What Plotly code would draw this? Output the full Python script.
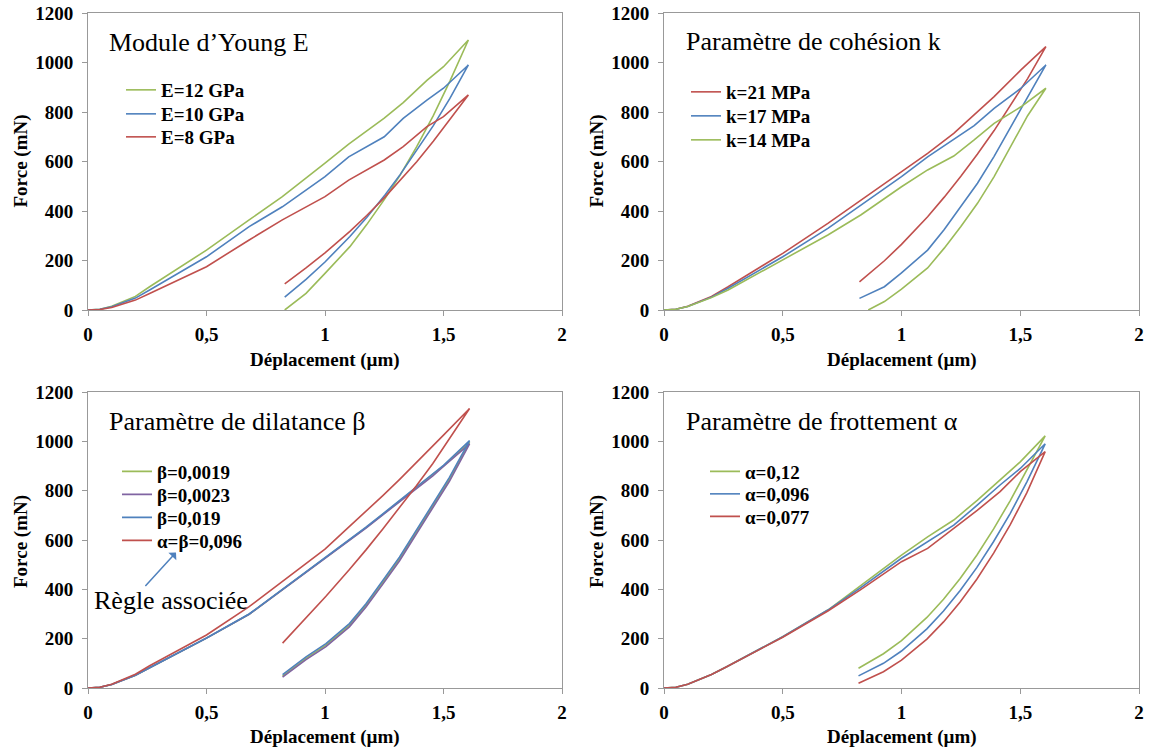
import plotly.graph_objects as go

W, H = 1151, 751
SERIF = "Liberation Serif, Times New Roman, DejaVu Serif, serif"
GREEN, BLUE, RED, PURPLE = "#9BBB59", "#4F81BD", "#C0504D", "#8064A2"

# ---------------- Panel 1 : Module d'Young E ----------------
E_load_x = [0, 0.05, 0.1, 0.2, 0.26, 0.5, 0.68, 0.82, 1.0, 1.1, 1.25, 1.33, 1.43, 1.5, 1.605]
E12_load = [0, 3, 15, 55, 94, 242, 364, 458, 593, 670, 775, 838, 928, 983, 1091]
E10_load = [0, 3, 13, 48, 81, 215, 337, 417, 539, 619, 700, 774, 848, 896, 990]
E8_load = [0, 2, 10, 40, 67, 175, 283, 364, 458, 525, 606, 660, 741, 781, 869]
E_unload_x = [1.527, 1.457, 1.387, 1.317, 1.253, 1.176, 1.105, 1.0, 0.92, 0.83]
E12_unload = [925, 785, 660, 545, 450, 345, 256, 148, 67, 0]
E10_unload = [855, 745, 645, 547, 465, 374, 297, 194, 124, 52]
E8_unload = [770, 682, 599, 522, 456, 382, 318, 231, 170, 106]

# ---------------- Panel 2 : cohésion k ----------------
k_load_x = [0, 0.05, 0.1, 0.2, 0.27, 0.5, 0.69, 0.83, 1.0, 1.11, 1.22, 1.306, 1.39, 1.503, 1.608]
k21_load = [0, 3, 15, 55, 94, 229, 350, 444, 559, 633, 714, 788, 862, 970, 1064]
k17_load = [0, 3, 14, 52, 88, 215, 330, 424, 539, 619, 688, 745, 815, 896, 990]
k14_load = [0, 3, 14, 50, 81, 202, 303, 385, 498, 566, 622, 687, 754, 821, 896]
k_unload_x = [1.531, 1.461, 1.39, 1.32, 1.25, 1.18, 1.11, 1.0, 0.928, 0.823]
k14_unload_x = [1.531, 1.461, 1.39, 1.32, 1.25, 1.18, 1.11, 1.0, 0.928, 0.86]
k21_unload = [935, 828, 725, 630, 540, 456, 377, 265, 199, 114]
k17_unload = [860, 741, 621, 512, 417, 325, 242, 150, 94, 47]
k14_unload = [785, 660, 539, 431, 337, 250, 170, 84, 34, 0]

# ---------------- Panel 3 : dilatance beta ----------------
b_load_x = [0, 0.05, 0.1, 0.2, 0.26, 0.5, 0.68, 0.82, 1.0, 1.1, 1.173, 1.244, 1.314, 1.384, 1.455, 1.5, 1.61]
ab096_load = [0, 3, 15, 56, 90, 215, 330, 432, 563, 652, 716, 780, 845, 912, 980, 1025, 1133]
b019_load = [0, 3, 14, 52, 82, 203, 300, 400, 530, 598, 652, 706, 760, 813, 867, 903, 1003]
b0023_load = [0, 3, 14, 52, 82, 202, 299, 398, 527, 595, 648, 702, 755, 808, 860, 898, 990]
b0019_load = [0, 3, 14, 52, 82, 202, 299, 399, 528, 596, 650, 704, 757, 810, 863, 900, 996]
b_unload_x = [1.525, 1.455, 1.384, 1.314, 1.244, 1.173, 1.103, 1.004, 0.92, 0.821]
ab096_unload = [1008, 910, 818, 730, 645, 560, 480, 372, 284, 182]
b019_unload = [854, 746, 638, 530, 436, 342, 261, 180, 126, 54]
b0023_unload = [838, 730, 622, 515, 421, 328, 248, 168, 115, 44]
b0019_unload = [846, 738, 630, 522, 428, 335, 254, 174, 120, 48]

# ---------------- Panel 4 : frottement alpha ----------------
a_load_x = [0, 0.05, 0.1, 0.2, 0.264, 0.5, 0.69, 0.83, 1.0, 1.11, 1.22, 1.32, 1.415, 1.5, 1.605]
a012_load = [0, 3, 15, 55, 86, 208, 316, 415, 539, 613, 681, 762, 843, 917, 1022]
a096_load = [0, 3, 15, 55, 86, 208, 316, 408, 526, 593, 660, 742, 823, 890, 990]
a077_load = [0, 3, 15, 55, 86, 206, 312, 400, 512, 566, 647, 721, 796, 877, 958]
a_unload_x = [1.528, 1.458, 1.388, 1.317, 1.247, 1.177, 1.107, 1.0, 0.924, 0.819]
a012_unload = [886, 760, 645, 538, 444, 360, 286, 192, 139, 80]
a096_unload = [836, 708, 594, 488, 395, 312, 240, 150, 100, 49]
a077_unload = [792, 662, 547, 441, 349, 268, 198, 113, 66, 19]

panel_titles = ["Module d\u2019Young E", "Param\u00e8tre de coh\u00e9sion k",
                "Param\u00e8tre de dilatance \u03b2", "Param\u00e8tre de frottement \u03b1"]
x_title = "D\u00e9placement (\u00b5m)"
y_title = "Force (mN)"


def px(X):
    return X / W


def py(Y):
    return 1 - Y / H


panels = [
    ("", [("E=12 GPa", GREEN, E_load_x, E12_load, E_unload_x, E12_unload),
          ("E=10 GPa", BLUE, E_load_x, E10_load, E_unload_x, E10_unload),
          ("E=8 GPa", RED, E_load_x, E8_load, E_unload_x, E8_unload)],
     161, [90, 114, 137]),
    ("2", [("k=21 MPa", RED, k_load_x, k21_load, k_unload_x, k21_unload),
           ("k=17 MPa", BLUE, k_load_x, k17_load, k_unload_x, k17_unload),
           ("k=14 MPa", GREEN, k_load_x, k14_load, k14_unload_x, k14_unload)],
     726, [92, 116, 140]),
    ("3", [("\u03b2=0,0019", GREEN, b_load_x, b0019_load, b_unload_x, b0019_unload),
           ("\u03b2=0,0023", PURPLE, b_load_x, b0023_load, b_unload_x, b0023_unload),
           ("\u03b2=0,019", BLUE, b_load_x, b019_load, b_unload_x, b019_unload),
           ("\u03b1=\u03b2=0,096", RED, b_load_x, ab096_load, b_unload_x, ab096_unload)],
     157, [471.5, 494.5, 517.5, 540.5]),
    ("4", [("\u03b1=0,12", GREEN, a_load_x, a012_load, a_unload_x, a012_unload),
           ("\u03b1=0,096", BLUE, a_load_x, a096_load, a_unload_x, a096_unload),
           ("\u03b1=0,077", RED, a_load_x, a077_load, a_unload_x, a077_unload)],
     745, [471.5, 494, 516.5]),
]

LEG_DX = -40

fig = go.Figure()
layout_legends = {}
leg_idx = 0
for suffix, series, text_x, rows in panels:
    for (name, col, lx, ly, ux, uy), rowY in zip(series, rows):
        leg_idx += 1
        key = "legend" if leg_idx == 1 else f"legend{leg_idx}"
        fig.add_trace(go.Scatter(
            x=list(lx) + list(ux), y=list(ly) + list(uy), mode="lines",
            line=dict(color=col, width=1.6), name=name,
            xaxis="x" + suffix, yaxis="y" + suffix, legend=key,
            showlegend=True, hoverinfo="skip"))
        layout_legends[key] = dict(
            x=px(text_x + LEG_DX), y=py(rowY), xanchor="left", yanchor="middle",
            bgcolor="rgba(0,0,0,0)", borderwidth=0, itemwidth=30,
            font=dict(family=SERIF, size=19, color="black", weight="bold"),
            itemclick=False, itemdoubleclick=False)

left_cols = [(88, 562), (664, 1139)]
rows_px = [(13, 310), (392, 688)]

axis_common = dict(showline=True, linecolor="#999999", linewidth=1, mirror=True,
                   ticks="outside", ticklen=5, tickcolor="#999999", tickwidth=1,
                   showgrid=False, zeroline=False, automargin=False,
                   tickfont=dict(family=SERIF, size=19, color="black", weight="bold"))
layout_axes = {}
for i, (suffix, _, _, _) in enumerate(panels):
    c = left_cols[i % 2]
    r = rows_px[i // 2]
    layout_axes["xaxis" + suffix] = dict(axis_common, domain=[px(c[0]), px(c[1])], range=[0, 2], dtick=0.5,
                                         anchor="y" + suffix, ticklabelstandoff=2)
    layout_axes["yaxis" + suffix] = dict(axis_common, domain=[py(r[1]), py(r[0])], range=[0, 1200], dtick=200,
                                         anchor="x" + suffix, ticklabelstandoff=5)

annotations = []
title_pos = [(107, 43), (684, 42), (107, 421.5), (684, 421.5)]
for t, (X, Y) in zip(panel_titles, title_pos):
    annotations.append(dict(text=t, x=px(X), y=py(Y), xref="paper", yref="paper",
                            xanchor="left", yanchor="middle", showarrow=False,
                            font=dict(family=SERIF, size=26, color="black")))
for X, Y in [(20.5, 161), (596.5, 161), (20.5, 541.5), (596.5, 541.5)]:
    annotations.append(dict(text=y_title, x=px(X), y=py(Y), xref="paper", yref="paper",
                            xanchor="center", yanchor="middle", textangle=-90, showarrow=False,
                            font=dict(family=SERIF, size=19, color="black", weight="bold")))
for X, Y in [(325, 360), (901.5, 360), (325, 737), (901.5, 737)]:
    annotations.append(dict(text=x_title, x=px(X), y=py(Y), xref="paper", yref="paper",
                            xanchor="center", yanchor="middle", showarrow=False,
                            font=dict(family=SERIF, size=19, color="black", weight="bold")))
annotations.append(dict(text="R\u00e8gle associ\u00e9e", x=px(92), y=py(600), xref="paper", yref="paper",
                        xanchor="left", yanchor="middle", showarrow=False,
                        font=dict(family=SERIF, size=26, color="black")))
annotations.append(dict(text="", x=px(176), y=py(552.5), xref="paper", yref="paper",
                        showarrow=True, ax=-32, ay=35, arrowhead=1, arrowsize=1.2,
                        arrowwidth=1.5, arrowcolor=BLUE))

fig.update_layout(
    width=W, height=H, autosize=False,
    margin=dict(l=0, r=0, t=0, b=0, autoexpand=False),
    paper_bgcolor="white", plot_bgcolor="white",
    separators=", ", showlegend=True,
    annotations=annotations,
    **layout_axes, **layout_legends,
)

fig.write_html("out.html", config={"displayModeBar": False},
               post_script="document.body.style.margin='0px';")
